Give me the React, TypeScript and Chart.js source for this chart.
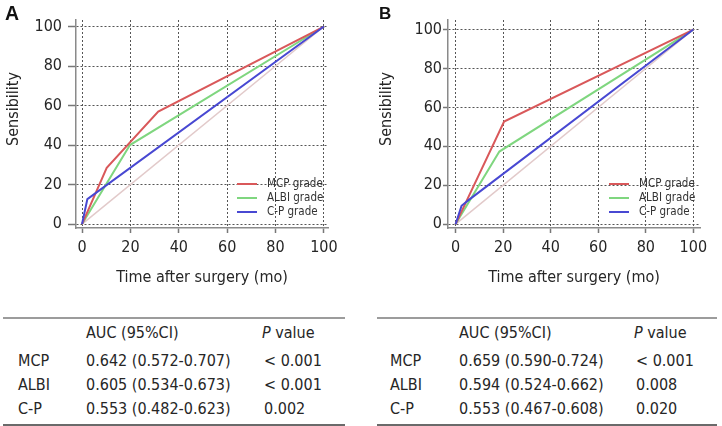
import React, { useEffect, useRef } from "react";
import { Chart, registerables } from "chart.js";

Chart.register(...registerables);

const FONT = "'DejaVu Sans Condensed', 'DejaVu Sans', sans-serif";
const TEXT = "#262626";
const FS = 16;

// ---------- shared labels ----------
const tickValues = [0, 20, 40, 60, 80, 100];
const seriesNames = ["MCP grade", "ALBI grade", "C-P grade"];
const seriesColors = ["#d9585a", "#7fd67f", "#4848d2"];
const diagColor = "#e2caca";
const xTitle = "Time after surgery (mo)";
const yTitle = "Sensibility";

// ---------- panel A (ROC points, x = 100 - specificity, y = sensitivity) ----------
const mcpAX = [0, 10.2, 31.5, 100];
const mcpAY = [0, 28.5, 56.9, 100];
const albiAX = [0, 19.8, 100];
const albiAY = [0, 40, 100];
const cpAX = [0, 2.2, 100];
const cpAY = [0, 12.6, 100];

// ---------- panel B ----------
const mcpBX = [0, 20.4, 100];
const mcpBY = [0, 52.7, 100];
const albiBX = [0, 18.4, 100];
const albiBY = [0, 37.3, 100];
const cpBX = [0, 2.5, 5.3, 100];
const cpBY = [0, 9.4, 12.2, 100];

const diagX = [0, 100];
const diagY = [0, 100];

// ---------- tables ----------
const tableHeader = ["", "AUC (95%CI)", "P value"];
const rowNames = ["MCP", "ALBI", "C-P"];
const aucA = ["0.642 (0.572-0.707)", "0.605 (0.534-0.673)", "0.553 (0.482-0.623)"];
const pA = ["< 0.001", "< 0.001", "0.002"];
const aucB = ["0.659 (0.590-0.724)", "0.594 (0.524-0.662)", "0.553 (0.467-0.608)"];
const pB = ["< 0.001", "0.008", "0.020"];

const pts = (xs: number[], ys: number[]) => xs.map((x, i) => ({ x, y: ys[i] }));

type Area = { left: number; right: number; top: number; bottom: number };
type PanelProps = {
  left: number;
  width: number;
  height: number;
  area: Area;
  xMin: number;
  xMax: number;
  yMin: number;
  yMax: number;
  yTickLen: number;
  yTickPad: number;
  yTitlePos: { x: number; y: number };
  series: { x: number[]; y: number[] }[];
};

function ChartPanel(p: PanelProps) {
  const ref = useRef<HTMLCanvasElement>(null);
  useEffect(() => {
    if (!ref.current) return;
    const datasets: any[] = [
      {
        label: "ref",
        data: pts(diagX, diagY),
        borderColor: diagColor,
        borderWidth: 1.5,
        pointRadius: 0,
        order: 10,
        isRef: true,
      },
    ];
    const drawOrder = [2, 3, 1];
    p.series.forEach((s, i) => {
      datasets.push({
        label: seriesNames[i],
        data: pts(s.x, s.y),
        borderColor: seriesColors[i],
        borderWidth: 2,
        pointRadius: 0,
        tension: 0,
        order: drawOrder[i],
      });
    });
    const overlay = {
      id: "overlay",
      afterDraw(chart: any) {
        const { ctx, chartArea } = chart;
        ctx.save();
        let row = 0;
        chart.data.datasets.forEach((ds: any) => {
          if (ds.isRef) return;
          const y = chartArea.bottom - 44 + row * 14;
          const x1 = chartArea.right - 91;
          ctx.strokeStyle = ds.borderColor;
          ctx.lineWidth = 2;
          ctx.beginPath();
          ctx.moveTo(x1, y);
          ctx.lineTo(x1 + 20, y);
          ctx.stroke();
          ctx.fillStyle = "#333";
          ctx.font = `11.5px ${FONT}`;
          ctx.textBaseline = "middle";
          ctx.textAlign = "left";
          ctx.fillText(ds.label, x1 + 30, y);
          row++;
        });
        ctx.translate(p.yTitlePos.x, p.yTitlePos.y);
        ctx.rotate(-Math.PI / 2);
        ctx.font = `${FS}px ${FONT}`;
        ctx.fillStyle = TEXT;
        ctx.textAlign = "center";
        ctx.textBaseline = "middle";
        ctx.fillText(yTitle, 0, 0);
        ctx.restore();
      },
    };
    const setTicks = (s: any) => {
      s.ticks = tickValues.map((v) => ({ value: v }));
    };
    const chart = new Chart(ref.current, {
      type: "line",
      data: { datasets },
      plugins: [overlay],
      options: {
        animation: false,
        responsive: false,
        maintainAspectRatio: false,
        layout: {
          padding: { top: p.area.top, right: p.width - p.area.right, left: 0, bottom: 0 },
        },
        plugins: { legend: { display: false }, tooltip: { enabled: false } },
        scales: {
          x: {
            type: "linear",
            min: p.xMin,
            max: p.xMax,
            afterBuildTicks: setTicks,
            afterFit: (s: any) => {
              s.height = p.height - p.area.bottom;
            },
            grid: { color: "#555", lineWidth: 1, tickLength: 5, tickColor: "#777", tickWidth: 1.5 },
            border: { display: true, color: "#8a8a8a", width: 1.5, dash: [2, 2] },
            ticks: {
              font: { family: FONT, size: FS },
              color: TEXT,
              padding: 5,
              maxRotation: 0,
              autoSkip: false,
            },
            title: {
              display: true,
              text: xTitle,
              font: { family: FONT, size: FS },
              color: TEXT,
              padding: { top: 0, bottom: 13 },
            },
          },
          y: {
            type: "linear",
            min: p.yMin,
            max: p.yMax,
            afterBuildTicks: setTicks,
            afterFit: (s: any) => {
              s.width = p.area.left;
            },
            grid: { color: "#555", lineWidth: 1, tickLength: p.yTickLen, tickColor: "#777", tickWidth: 1.5 },
            border: { display: true, color: "#8a8a8a", width: 1.5, dash: [2, 2] },
            ticks: {
              font: { family: FONT, size: FS },
              color: TEXT,
              padding: p.yTickPad,
              autoSkip: false,
            },
          },
        },
      },
    } as any);
    return () => chart.destroy();
  }, []);
  return (
    <canvas
      ref={ref}
      width={p.width}
      height={p.height}
      style={{ position: "absolute", left: p.left, top: 0, width: p.width, height: p.height }}
    />
  );
}

function StatTable(props: {
  left: number;
  right: number;
  cols: number[];
  auc: string[];
  pv: string[];
}) {
  const { left, right, cols, auc, pv } = props;
  const rowCenters = [361, 385, 409];
  const txt = (s: React.ReactNode, x: number, cy: number, key: string) => (
    <div
      key={key}
      style={{
        position: "absolute",
        left: x,
        top: cy - 10,
        height: 20,
        lineHeight: "20px",
        fontFamily: FONT,
        fontSize: FS,
        color: TEXT,
        whiteSpace: "nowrap",
      }}
    >
      {s}
    </div>
  );
  return (
    <>
      <div style={{ position: "absolute", left, width: right - left, top: 317, height: 2, background: "#9c9c9c" }} />
      <div style={{ position: "absolute", left, width: right - left, top: 424, height: 2, background: "#6a6a6a" }} />
      {txt(tableHeader[1], cols[1], 333, "h1")}
      {txt(
        <span>
          <i>P</i>
          {tableHeader[2].slice(1)}
        </span>,
        cols[2] - 2,
        333,
        "h2"
      )}
      {rowNames.map((r, i) => (
        <React.Fragment key={r}>
          {txt(r, cols[0], rowCenters[i], "r" + i)}
          {txt(auc[i], cols[1], rowCenters[i], "a" + i)}
          {txt(pv[i], cols[2], rowCenters[i], "p" + i)}
        </React.Fragment>
      ))}
    </>
  );
}

export default function App() {
  return (
    <div
      style={{
        position: "fixed",
        left: 0,
        top: 0,
        width: 722,
        height: 426,
        background: "#fff",
        overflow: "hidden",
      }}
    >
      <ChartPanel
        left={0}
        width={361}
        height={300}
        area={{ left: 76, right: 328, top: 20, bottom: 228 }}
        xMin={-2.5}
        xMax={101.7}
        yMin={-2}
        yMax={103.3}
        yTickLen={8}
        yTickPad={6}
        yTitlePos={{ x: 13.5, y: 109 }}
        series={[
          { x: mcpAX, y: mcpAY },
          { x: albiAX, y: albiAY },
          { x: cpAX, y: cpAY },
        ]}
      />
      <ChartPanel
        left={361}
        width={361}
        height={300}
        area={{ left: 87, right: 339, top: 20, bottom: 228 }}
        xMin={-3.2}
        xMax={102.8}
        yMin={-2}
        yMax={104.9}
        yTickLen={5}
        yTickPad={1}
        yTitlePos={{ x: 25.7, y: 109 }}
        series={[
          { x: mcpBX, y: mcpBY },
          { x: albiBX, y: albiBY },
          { x: cpBX, y: cpBY },
        ]}
      />
      <div
        style={{
          position: "absolute",
          left: 5,
          top: 4,
          fontFamily: "'Liberation Sans', Arial, sans-serif",
          fontWeight: 700,
          fontSize: 19.5,
          lineHeight: "19.5px",
          color: "#111",
        }}
      >
        A
      </div>
      <div
        style={{
          position: "absolute",
          left: 379,
          top: 5,
          fontFamily: "'Liberation Sans', Arial, sans-serif",
          fontWeight: 700,
          fontSize: 17,
          lineHeight: "17px",
          color: "#111",
        }}
      >
        B
      </div>
      <StatTable left={3} right={345} cols={[18, 86, 264]} auc={aucA} pv={pA} />
      <StatTable left={377} right={717} cols={[390, 459, 636]} auc={aucB} pv={pB} />
    </div>
  );
}
